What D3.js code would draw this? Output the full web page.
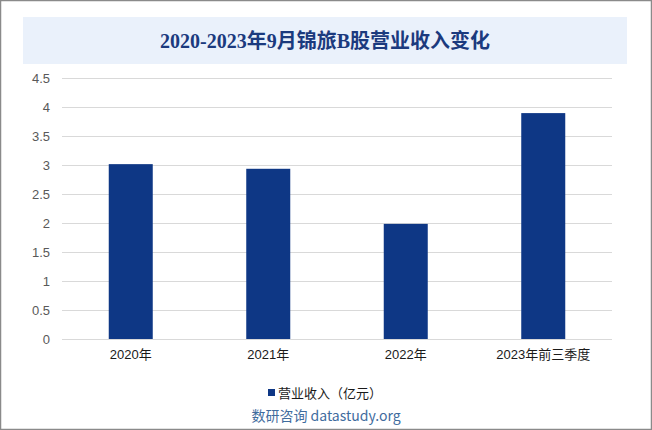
<!DOCTYPE html>
<html><head><meta charset="utf-8">
<script src="https://cdn.jsdelivr.net/npm/d3@7"></script>
<style>body{margin:0;background:#fff;}svg{display:block;}</style>
</head><body>
<script>
const categories = ["2020年", "2021年", "2022年", "2023年前三季度"];
const revenue = [3.02, 2.94, 1.99, 3.90];
const yTicks = [0, 0.5, 1, 1.5, 2, 2.5, 3, 3.5, 4, 4.5];
const seriesName = "营业收入（亿元）";
const titleText = "2020-2023年9月锦旅B股营业收入变化";
const sourceText = "数研咨询 datastudy.org";

const W = 652, H = 430;
const svg = d3.select("body").append("svg").attr("width", W).attr("height", H);
svg.append("rect").attr("x", 0.5).attr("y", 0.5).attr("width", W - 1).attr("height", H - 1)
  .attr("fill", "#fff").attr("stroke", "#8a8a8a").attr("stroke-width", 1.5);

svg.append("rect").attr("x", 23).attr("y", 17).attr("width", 604).attr("height", 47).attr("fill", "#EAF1FB");
svg.append("text").attr("x", 325).attr("y", 41).attr("text-anchor", "middle").attr("dominant-baseline", "central")
  .attr("font-family", "'Liberation Serif','Noto Sans CJK SC',serif").attr("font-weight", "bold")
  .attr("font-size", 20).attr("fill", "#1B3A7E").text(titleText);

const x = d3.scaleBand().domain(categories).range([62, 612]).paddingInner(0.68).paddingOuter(0.34);
const y = d3.scaleLinear().domain([0, 4.5]).range([339.3, 78.3]);

const grid = svg.append("g");
grid.selectAll("line").data(yTicks.filter(d => d > 0)).join("line")
  .attr("x1", 62).attr("x2", 612).attr("y1", d => Math.round(y(d)) + 0.5).attr("y2", d => Math.round(y(d)) + 0.5)
  .attr("stroke", "#d9d9d9").attr("stroke-width", 1);

svg.append("g").selectAll("rect").data(revenue).join("rect")
  .attr("x", (d, i) => x(categories[i])).attr("width", x.bandwidth())
  .attr("y", d => y(d)).attr("height", d => y(0) - y(d)).attr("fill", "#0E3785");

svg.append("line").attr("x1", 62).attr("x2", 612).attr("y1", Math.round(y(0)) + 0.5).attr("y2", Math.round(y(0)) + 0.5)
  .attr("stroke", "#d9d9d9");

const yAxis = d3.axisLeft(y).tickValues(yTicks).tickFormat(d3.format("~g")).tickSize(0).tickPadding(0);
const ya = svg.append("g").attr("transform", "translate(50,0)").call(yAxis);
ya.select(".domain").remove();
ya.selectAll("text").attr("font-family", "Arial, 'Liberation Sans', sans-serif").attr("font-size", 13).attr("fill", "#595959");

const xAxis = d3.axisBottom(x).tickSize(0).tickPadding(10);
const xa = svg.append("g").attr("transform", `translate(0,${y(0)})`).call(xAxis);
xa.select(".domain").remove();
xa.selectAll("text").attr("font-family", "Arial, 'Noto Sans CJK SC', sans-serif").attr("font-size", 13).attr("fill", "#1a1a1a");

svg.append("rect").attr("x", 268).attr("y", 389).attr("width", 7).attr("height", 7).attr("fill", "#0E3785");
svg.append("text").attr("x", 278).attr("y", 392).attr("dominant-baseline", "central")
  .attr("font-family", "'Noto Sans CJK SC', sans-serif").attr("font-size", 13).attr("fill", "#1a1a1a").text(seriesName);

svg.append("text").attr("x", 326).attr("y", 415).attr("text-anchor", "middle").attr("dominant-baseline", "central")
  .attr("font-family", "'Noto Sans CJK SC', Arial, sans-serif").attr("font-size", 14).attr("fill", "#3F6C9E").text(sourceText);
</script>
</body></html>
